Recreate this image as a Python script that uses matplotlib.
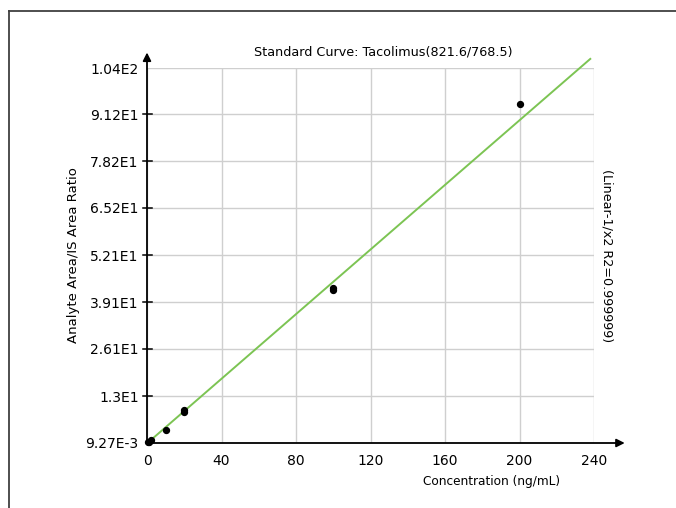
import matplotlib
matplotlib.use("Agg")
import matplotlib.pyplot as plt
import numpy as np

conc = [0.5, 1, 2, 10, 20, 20, 100, 100, 200]
ratio = [0.15, 0.35, 0.75, 3.6, 9.15, 8.6, 43.0, 42.4, 94.0]
slope = 0.448
intercept = -0.1
line_x = [0, 238]
xticks = [0, 40, 80, 120, 160, 200, 240]
yticks = [0.00927, 13.0, 26.1, 39.1, 52.1, 65.2, 78.2, 91.2, 104.0]
yticklabels = ["9.27E-3", "1.3E1", "2.61E1", "3.91E1", "5.21E1", "6.52E1", "7.82E1", "9.12E1", "1.04E2"]

W, H = 676, 508
fig = plt.figure(figsize=(W/100, H/100), dpi=100)
plt.rcParams['font.family'] = ['DejaVu Sans']
fs_tick = 10
fs = 9.2

L, R, T, B = 147, 594, 68, 443
ax = fig.add_axes([L/W, 1-B/H, (R-L)/W, (B-T)/H])
ax.set_xlim(0, 240)
ax.set_ylim(yticks[0], yticks[-1])
ax.set_xticks(xticks)
ax.set_xticklabels([str(v) for v in xticks], fontsize=fs_tick)
ax.set_yticks(yticks)
ax.set_yticklabels(yticklabels, fontsize=fs_tick)
ax.grid(True, color="#cfcfcf", linewidth=1)
ax.set_axisbelow(True)
for s in ["top", "right", "left", "bottom"]:
    ax.spines[s].set_visible(False)
ax.tick_params(axis="x", length=0, pad=8)
ax.tick_params(axis="y", length=0, pad=6)

# axis arrows
ax.annotate("", xy=(256.5, yticks[0]), xytext=(0, yticks[0]), xycoords="data",
            arrowprops=dict(arrowstyle="-|>", color="black", lw=1.3, mutation_scale=12,
                            shrinkA=0, shrinkB=0), annotation_clip=False)
ax.annotate("", xy=(0, 108.3), xytext=(0, yticks[0]), xycoords="data",
            arrowprops=dict(arrowstyle="-|>", color="black", lw=1.3, mutation_scale=12,
                            shrinkA=0, shrinkB=0), annotation_clip=False)
# y ticks crossing axis
for yv in yticks[1:-1]:
    ax.plot([-2.2, 2.7], [yv, yv], color="black", lw=1.1, clip_on=False)

lx = np.array(line_x, dtype=float)
ax.plot(lx, slope*lx + intercept, color="#7cc453", lw=1.4, clip_on=False, zorder=3)
ax.scatter(conc, ratio, s=18, color="black", zorder=4, clip_on=False)

fig.text(383/W, 1-52/H, "Standard Curve: Tacolimus(821.6/768.5)", ha="center", va="center", fontsize=fs)
fig.text(73/W, 1-255/H, "Analyte Area/IS Area Ratio", ha="center", va="center", rotation=90, fontsize=9.5)
fig.text(560/W, 1-481/H, "Concentration (ng/mL)", ha="right", va="center", fontsize=8.7)
fig.text(607/W, 1-256/H, "(Linear-1/x2 R2=0.999999)", ha="center", va="center", rotation=270, fontsize=fs)

# outer frame (top and left lines)
fig.add_artist(plt.Line2D([9/W, 1], [1-11/H, 1-11/H], color="#404040", lw=1.3))
fig.add_artist(plt.Line2D([9/W, 9/W], [0, 1-11/H], color="#404040", lw=1.3))

fig.savefig("out.png", dpi=100)
